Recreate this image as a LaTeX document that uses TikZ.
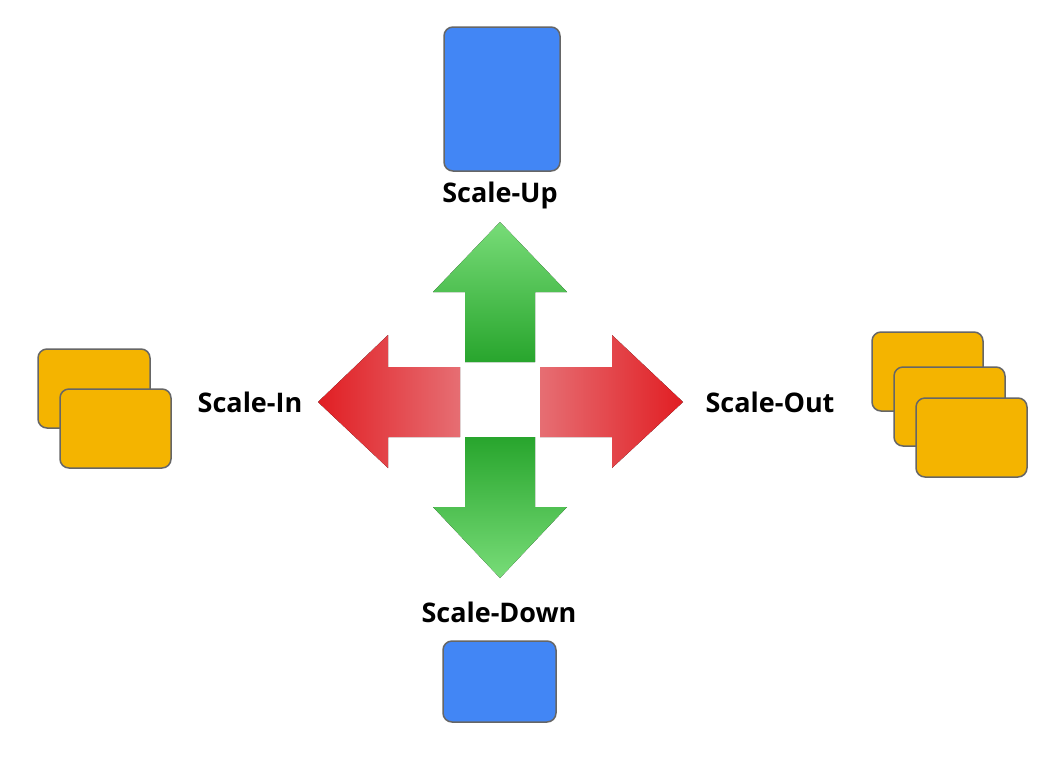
\documentclass[tikz,border=0pt]{standalone}
\usepackage{fontspec}
\setmainfont{Open Sans}
\begin{document}
\begin{tikzpicture}[x=1pt,y=-1pt,
 card/.style={draw=black!60,line width=1.5pt,rounded corners=9pt},
 blue/.style={card,fill={rgb,255:red,66;green,134;blue,245}},
 orange/.style={card,fill={rgb,255:red,244;green,180;blue,0}},
 lbl/.style={font=\bfseries\fontsize{27}{30}\selectfont}]
\useasboundingbox (0,0) rectangle (1063,756);
\definecolor{gr}{RGB}{40,165,45}\definecolor{grl}{RGB}{120,220,120}
\definecolor{rd}{RGB}{225,30,35}\definecolor{rdl}{RGB}{230,110,115}
\fill[top color=grl,bottom color=gr] (500,222) -- (567,292) -- (535,292) -- (535,362) -- (465,362) -- (465,292) -- (433,292) -- cycle;
\fill[top color=gr,bottom color=grl] (500,578) -- (567,507) -- (535,507) -- (535,437) -- (465,437) -- (465,507) -- (433,507) -- cycle;
\fill[left color=rd,right color=rdl] (318,402) -- (388,335) -- (388,367) -- (460,367) -- (460,437) -- (388,437) -- (388,468) -- cycle;
\fill[left color=rdl,right color=rd] (683,402) -- (612,335) -- (612,367) -- (540,367) -- (540,437) -- (612,437) -- (612,468) -- cycle;
\node[blue,minimum width=116pt,minimum height=144pt] (up) at (502,99) {};
\node[lbl] (lup) at (500,195) {Scale-Up};
\node[blue,minimum width=113pt,minimum height=81pt] (down) at (499.5,681.5) {};
\node[lbl] (ldown) at (499,612) {Scale-Down};
\node[orange,minimum width=112pt,minimum height=79pt] (i1) at (94,388.5) {};
\node[orange,minimum width=111pt,minimum height=79pt] (i2) at (115.5,428.5) {};
\node[lbl] (lin) at (250,402) {Scale-In};
\node[orange,minimum width=111pt,minimum height=79pt] (o1) at (927.5,371.5) {};
\node[orange,minimum width=111pt,minimum height=79pt] (o2) at (949.5,406.5) {};
\node[orange,minimum width=111pt,minimum height=79pt] (o3) at (971.5,437.5) {};
\node[lbl] (lout) at (770,402) {Scale-Out};
\end{tikzpicture}
\end{document}
